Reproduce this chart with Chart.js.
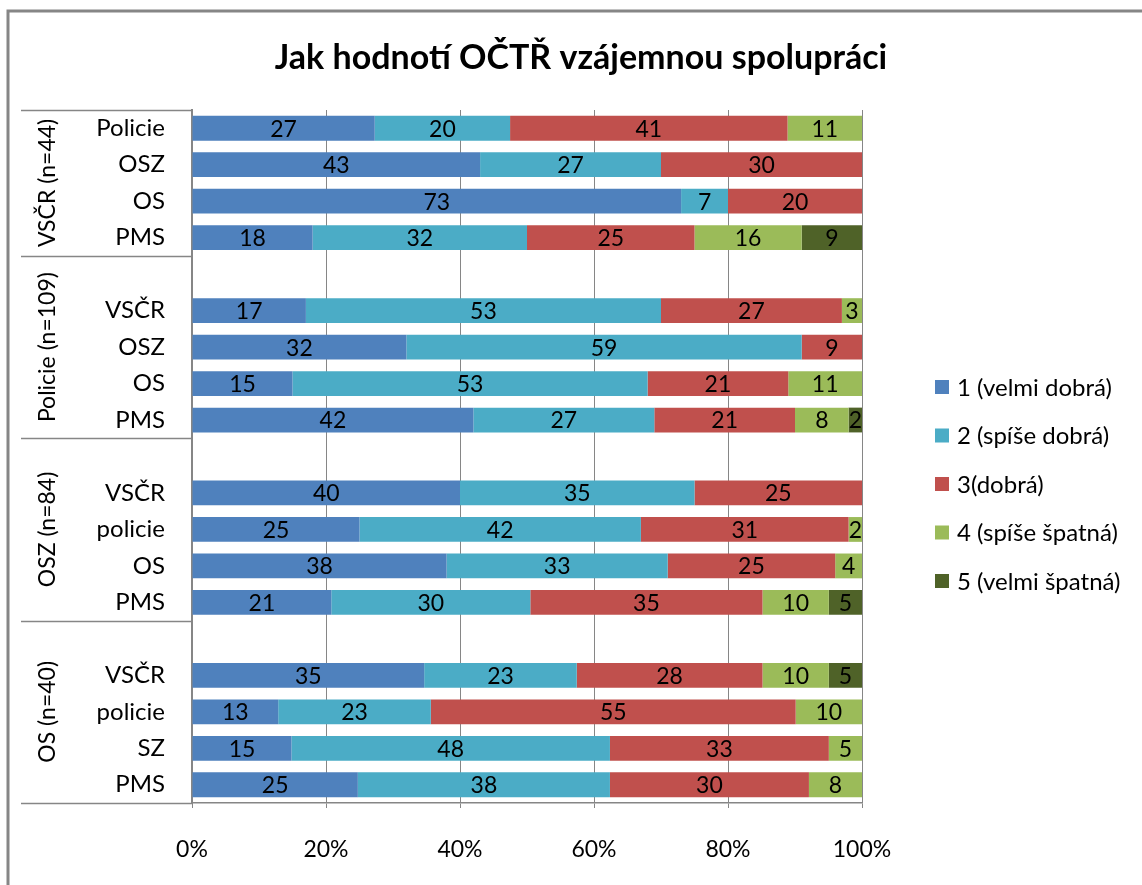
<!DOCTYPE html>
<html lang="cs">
<head>
<meta charset="utf-8">
<title>Jak hodnotí OČTŘ vzájemnou spolupráci</title>
<script src="https://cdn.jsdelivr.net/npm/chart.js@4.4.1/dist/chart.umd.min.js"></script>
<style>
  html, body { margin: 0; padding: 0; background: #fff; }
  canvas { display: block; }
</style>
</head>
<body>
<canvas id="chart" width="1142" height="885"></canvas>
<script>
// řádky grafu shora dolů, prázdný řetězec = mezera mezi skupinami
const rowLabels = [
  'Policie', 'OSZ', 'OS', 'PMS',
  '', 'VSČR', 'OSZ', 'OS', 'PMS',
  '', 'VSČR', 'policie', 'OS', 'PMS',
  '', 'VSČR', 'policie', 'SZ', 'PMS',
];

// skupiny (kdo hodnotí) a počet řádků v každé z nich
const groupLabels = ['VSČR (n=44)', 'Policie (n=109)', 'OSZ (n=84)', 'OS (n=40)'];
const groupSizes = [4, 5, 5, 5];

const seriesNames = ['1 (velmi dobrá)', '2 (spíše dobrá)', '3(dobrá)', '4 (spíše špatná)', '5 (velmi špatná)'];
const seriesColors = ['#4F81BD', '#4BACC6', '#C0504D', '#9BBB59', '#4F6228'];

// hodnoty (%) jak jsou popsané v grafu
const velmiDobra  = [27, 43, 73, 18, null, 17, 32, 15, 42, null, 40, 25, 38, 21, null, 35, 13, 15, 25];
const spiseDobra  = [20, 27,  7, 32, null, 53, 59, 53, 27, null, 35, 42, 33, 30, null, 23, 23, 48, 38];
const dobra       = [41, 30, 20, 25, null, 27,  9, 21, 21, null, 25, 31, 25, 35, null, 28, 55, 33, 30];
const spiseSpatna = [11, null, null, 16, null, 3, null, 11, 8, null, null, 2, 4, 10, null, 10, 10, 5, 8];
const velmiSpatna = [null, null, null, 9, null, null, null, null, 2, null, null, null, null, 5, null, 5, null, null, null];

const xTickValues = [0, 20, 40, 60, 80, 100];

const chartTitle = 'Jak hodnotí OČTŘ vzájemnou spolupráci';

const FONT = 'Lato';
const GRAY = '#868686';

const seriesValues = [velmiDobra, spiseDobra, dobra, spiseSpatna, velmiSpatna];

// 100% skládaný graf: každý řádek přepočítat na podíl ze součtu
const rowTotals = rowLabels.map((_, i) =>
  seriesValues.reduce((sum, arr) => sum + (arr[i] || 0), 0));

const datasets = seriesValues.map((arr, k) => ({
  label: seriesNames[k],
  data: arr.map((v, i) => (v == null || !rowTotals[i]) ? null : v * 100 / rowTotals[i]),
  counts: arr,
  backgroundColor: seriesColors[k],
  borderWidth: 0,
  barPercentage: 0.68,
  categoryPercentage: 1.0,
}));

// rámeček vlevo a nahoře + nadpis přes celou šířku
const framePlugin = {
  id: 'frame',
  beforeDraw(chart) {
    const ctx = chart.ctx;
    ctx.save();
    ctx.fillStyle = '#fff';
    ctx.fillRect(0, 0, chart.width, chart.height);
    ctx.strokeStyle = GRAY;
    ctx.lineWidth = 3;
    ctx.beginPath();
    ctx.moveTo(8, chart.height);
    ctx.lineTo(8, 11);
    ctx.lineTo(chart.width, 11);
    ctx.stroke();

    ctx.font = `bold 34px ${FONT}`;
    ctx.fillStyle = '#000';
    ctx.textAlign = 'center';
    ctx.textBaseline = 'middle';
    ctx.fillText(chartTitle, 581, 58);
    ctx.restore();
  }
};

// čísla uprostřed jednotlivých úseků
const valueLabelPlugin = {
  id: 'valueLabels',
  afterDatasetsDraw(chart) {
    const ctx = chart.ctx;
    ctx.save();
    ctx.font = `23px ${FONT}`;
    ctx.fillStyle = '#000';
    ctx.textAlign = 'center';
    ctx.textBaseline = 'middle';
    chart.data.datasets.forEach((ds, k) => {
      const meta = chart.getDatasetMeta(k);
      meta.data.forEach((bar, i) => {
        const n = ds.counts[i];
        if (!n) return;
        const p = bar.getCenterPoint();
        ctx.fillText(String(n), p.x, p.y + 1);
      });
    });
    ctx.restore();
  }
};

// skupinové popisky a dělicí čáry vlevo od osy
const groupAxisPlugin = {
  id: 'groupAxis',
  afterDraw(chart) {
    const ctx = chart.ctx;
    const area = chart.chartArea;
    const yScale = chart.scales.y;
    const step = (area.bottom - area.top) / rowLabels.length;
    ctx.save();
    ctx.strokeStyle = GRAY;
    ctx.lineWidth = 1.5;
    ctx.font = `23px ${FONT}`;
    ctx.fillStyle = '#000';
    ctx.textAlign = 'center';
    ctx.textBaseline = 'middle';

    let start = 0;
    const edges = [area.top];
    groupSizes.forEach((size, g) => {
      const top = yScale.getPixelForValue(start) - step / 2;
      const bottom = yScale.getPixelForValue(start + size - 1) + step / 2;
      edges.push(bottom);
      ctx.save();
      ctx.translate(48, (top + bottom) / 2);
      ctx.rotate(-Math.PI / 2);
      ctx.fillText(groupLabels[g], 0, 0);
      ctx.restore();
      start += size;
    });

    edges.forEach((y) => {
      ctx.beginPath();
      ctx.moveTo(21, Math.round(y) + 0.5);
      ctx.lineTo(area.left, Math.round(y) + 0.5);
      ctx.stroke();
    });
    ctx.restore();
  }
};

// legenda vpravo
const sideLegendPlugin = {
  id: 'sideLegend',
  afterDraw(chart) {
    const ctx = chart.ctx;
    const area = chart.chartArea;
    const x = area.right + 73;
    const y0 = 387;
    const gap = 48.5;
    ctx.save();
    ctx.font = `24px ${FONT}`;
    ctx.textAlign = 'left';
    ctx.textBaseline = 'middle';
    chart.data.datasets.forEach((ds, k) => {
      const y = y0 + k * gap;
      ctx.fillStyle = ds.backgroundColor;
      ctx.fillRect(x, y - 7, 14, 14);
      ctx.fillStyle = '#000';
      ctx.fillText(ds.label, x + 22, y + 1);
    });
    ctx.restore();
  }
};

new Chart(document.getElementById('chart'), {
  type: 'bar',
  data: { labels: rowLabels, datasets },
  options: {
    responsive: false,
    animation: false,
    indexAxis: 'y',
    layout: { padding: { left: 0, right: 280, top: 110, bottom: 0 } },
    scales: {
      x: {
        stacked: true,
        min: 0,
        max: 100,
        afterBuildTicks: (scale) => { scale.ticks = xTickValues.map((v) => ({ value: v })); },
        afterFit: (scale) => { scale.height = 82; },
        ticks: {
          callback: (v) => v + '%',
          color: '#000',
          font: { family: FONT, size: 23 },
          padding: 28,
          maxRotation: 0,
        },
        grid: { color: GRAY, lineWidth: 1, drawTicks: true, tickLength: 5, tickColor: GRAY },
        border: { display: true, color: GRAY, width: 1.5 },
      },
      y: {
        stacked: true,
        afterFit: (scale) => { scale.width = 192; },
        ticks: {
          color: '#000',
          font: { family: FONT, size: 24 },
          padding: 27,
          autoSkip: false,
        },
        grid: { display: false, drawTicks: false },
        border: { display: true, color: GRAY, width: 2 },
      },
    },
    plugins: {
      legend: { display: false },
      tooltip: { enabled: false },
      title: { display: false },
    },
  },
  plugins: [framePlugin, valueLabelPlugin, groupAxisPlugin, sideLegendPlugin],
});
</script>
</body>
</html>
